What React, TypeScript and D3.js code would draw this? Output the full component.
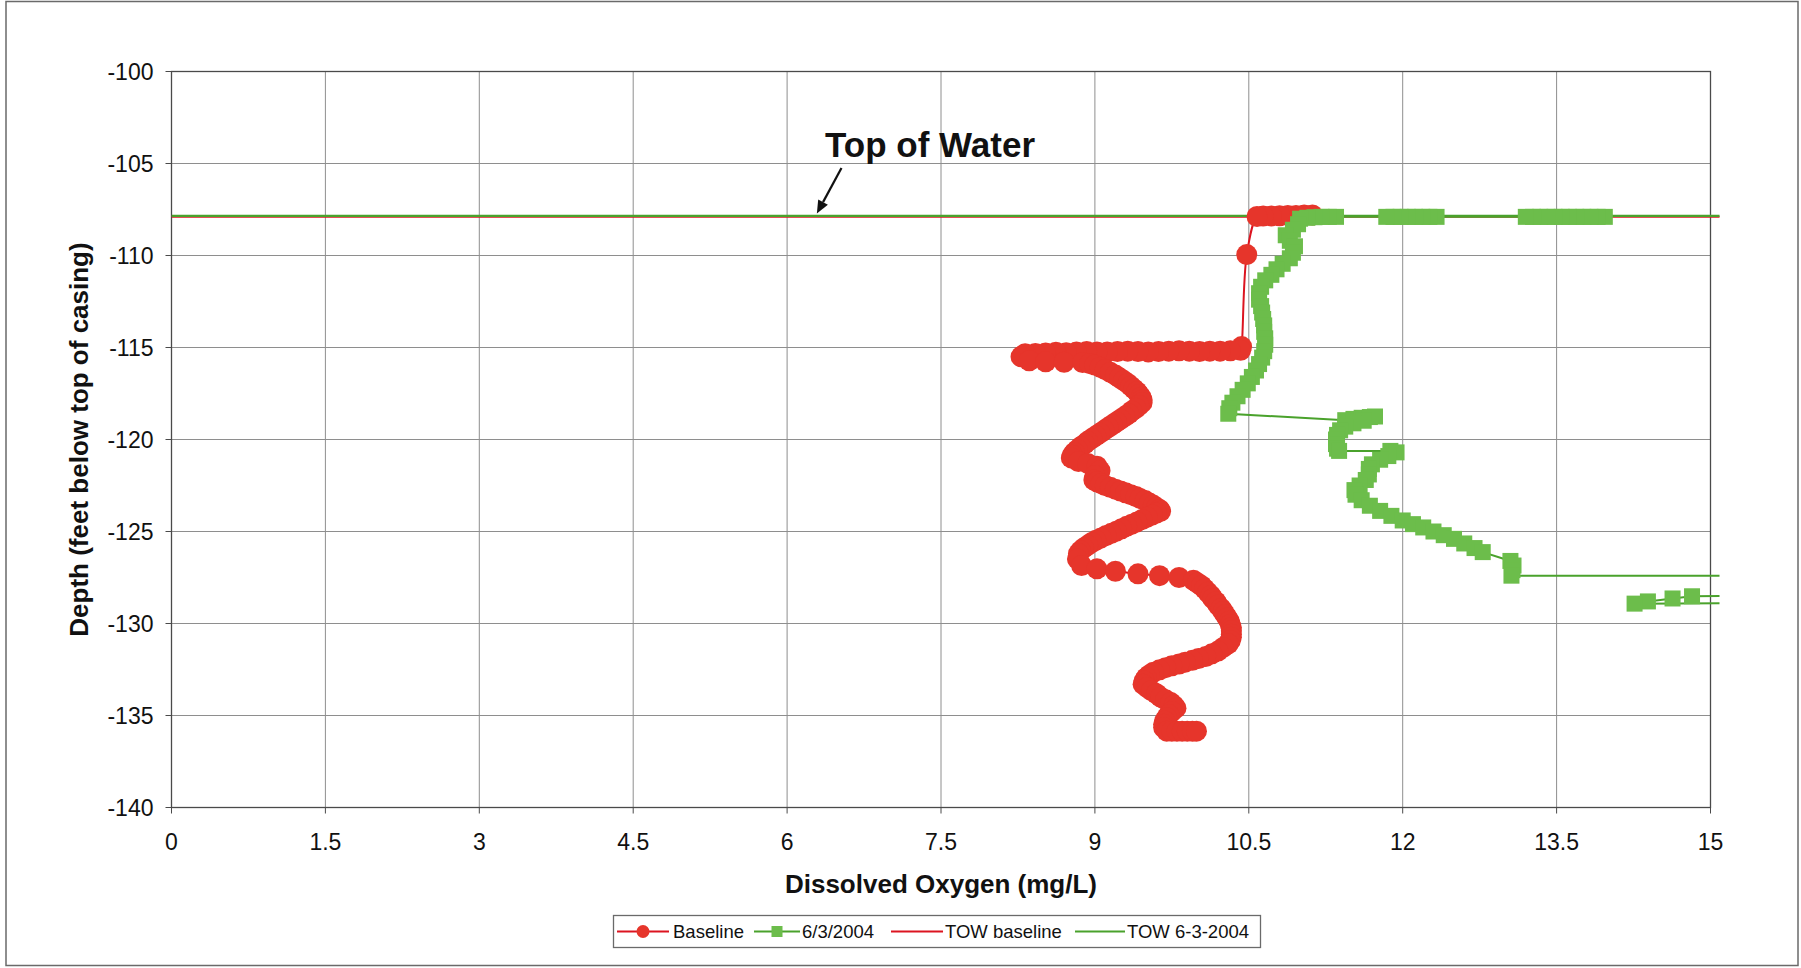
import React from 'react';
import * as d3 from 'd3';

// ---------- data ----------
const xTicks = [0, 1.5, 3, 4.5, 6, 7.5, 9, 10.5, 12, 13.5, 15];
const yTicks = [-100, -105, -110, -115, -120, -125, -130, -135, -140];

// Baseline profile: [dissolved oxygen (mg/L), depth (ft)]
const baselinePoints: [number, number][] = [
  [11.12, -107.8], [11.04, -107.8], [10.96, -107.82], [10.88, -107.82], [10.8, -107.84],
  [10.72, -107.85], [10.64, -107.86], [10.58, -107.88], [10.48, -109.95], [10.43, -114.95],
  [10.42, -115.15], [10.32, -115.18], [10.22, -115.2], [10.12, -115.2], [10.02, -115.22],
  [9.92, -115.2], [9.82, -115.18], [9.72, -115.2], [9.62, -115.22], [9.52, -115.24],
  [9.42, -115.22], [9.32, -115.2], [9.22, -115.22], [9.12, -115.25], [9.02, -115.24],
  [8.92, -115.22], [8.82, -115.25], [8.72, -115.28], [8.62, -115.26], [8.52, -115.3],
  [8.42, -115.32], [8.32, -115.34], [8.28, -115.5], [8.36, -115.72], [8.52, -115.78],
  [8.7, -115.8], [8.88, -115.82], [8.95, -115.88], [9.0, -115.95], [9.05, -116.07],
  [9.1, -116.2], [9.15, -116.35], [9.2, -116.5], [9.24, -116.65], [9.28, -116.8],
  [9.32, -116.95], [9.35, -117.1], [9.38, -117.25], [9.41, -117.4], [9.43, -117.55],
  [9.45, -117.7], [9.46, -117.85], [9.46, -118.0], [9.43, -118.15], [9.4, -118.3],
  [9.36, -118.45], [9.33, -118.6], [9.29, -118.75], [9.25, -118.9], [9.21, -119.05],
  [9.17, -119.2], [9.13, -119.35], [9.09, -119.5], [9.05, -119.65], [9.01, -119.8],
  [8.97, -119.95], [8.93, -120.1], [8.9, -120.25], [8.86, -120.4], [8.83, -120.55],
  [8.8, -120.7], [8.78, -120.85], [8.77, -121.0], [8.84, -121.2], [8.93, -121.3],
  [9.02, -121.45], [9.05, -121.7], [9.0, -121.95], [8.99, -122.2], [9.02, -122.3],
  [9.06, -122.4], [9.1, -122.5], [9.15, -122.6], [9.2, -122.7], [9.25, -122.8],
  [9.3, -122.9], [9.35, -123.0], [9.4, -123.1], [9.44, -123.2], [9.49, -123.32],
  [9.53, -123.45], [9.57, -123.58], [9.6, -123.7], [9.63, -123.8], [9.64, -123.9],
  [9.6, -124.0], [9.56, -124.1], [9.51, -124.22], [9.46, -124.35], [9.41, -124.48],
  [9.36, -124.6], [9.31, -124.72], [9.26, -124.85], [9.21, -124.98], [9.16, -125.1],
  [9.11, -125.22], [9.06, -125.35], [9.01, -125.48], [8.97, -125.6], [8.93, -125.75],
  [8.89, -125.9], [8.86, -126.05], [8.84, -126.2], [8.83, -126.5], [8.87, -126.85],
  [9.02, -127.03], [9.2, -127.16], [9.42, -127.3], [9.63, -127.4], [9.82, -127.5],
  [9.96, -127.65], [10.0, -127.8], [10.04, -127.95], [10.07, -128.12], [10.1, -128.3],
  [10.13, -128.48], [10.15, -128.65], [10.18, -128.82], [10.2, -129.0], [10.23, -129.18],
  [10.25, -129.35], [10.27, -129.52], [10.29, -129.7], [10.31, -129.88], [10.32, -130.05],
  [10.33, -130.22], [10.33, -130.4], [10.33, -130.58], [10.33, -130.75], [10.32, -130.92],
  [10.3, -131.1], [10.25, -131.3], [10.2, -131.5], [10.14, -131.65], [10.08, -131.8],
  [10.01, -131.9], [9.95, -132.0], [9.88, -132.1], [9.82, -132.2], [9.75, -132.3],
  [9.69, -132.4], [9.63, -132.52], [9.57, -132.65], [9.53, -132.8], [9.5, -132.95],
  [9.48, -133.12], [9.47, -133.3], [9.51, -133.48], [9.55, -133.65], [9.6, -133.82],
  [9.64, -134.0], [9.69, -134.15], [9.74, -134.3], [9.77, -134.45], [9.79, -134.6],
  [9.75, -134.78], [9.72, -134.95], [9.7, -135.12], [9.68, -135.3], [9.67, -135.48],
  [9.67, -135.65], [9.7, -135.85], [9.75, -135.85], [9.8, -135.85], [9.85, -135.85],
  [9.9, -135.85], [9.95, -135.85], [9.99, -135.85],
];

// 6/3/2004 profile: [dissolved oxygen (mg/L), depth (ft)] (some readings exceed 15 mg/L)
const june2004Points: [number, number][] = [
  [13.97, -107.9], [13.9, -107.9], [13.83, -107.9], [13.76, -107.9], [13.69, -107.9],
  [13.62, -107.9], [13.55, -107.9], [13.48, -107.9], [13.41, -107.9], [13.34, -107.9],
  [13.27, -107.9], [13.2, -107.9], [12.33, -107.9], [12.26, -107.9], [12.19, -107.9],
  [12.12, -107.9], [12.05, -107.9], [11.98, -107.9], [11.91, -107.9], [11.84, -107.9],
  [11.35, -107.9], [11.28, -107.9], [11.21, -107.9], [11.14, -107.92], [11.07, -107.95],
  [11.0, -108.0], [10.98, -108.3], [10.93, -108.6], [10.86, -108.9], [10.9, -109.2],
  [10.95, -109.5], [10.93, -109.85], [10.9, -110.15], [10.83, -110.45], [10.77, -110.75],
  [10.72, -111.05], [10.66, -111.35], [10.62, -111.7], [10.6, -112.05], [10.6, -112.4],
  [10.62, -112.75], [10.63, -113.1], [10.64, -113.45], [10.65, -113.8], [10.65, -114.15],
  [10.66, -114.5], [10.66, -114.85], [10.65, -115.2], [10.63, -115.55], [10.6, -115.9],
  [10.57, -116.25], [10.53, -116.6], [10.49, -116.95], [10.44, -117.3], [10.39, -117.65],
  [10.34, -118.0], [10.31, -118.3], [10.3, -118.6], [11.44, -118.95], [11.52, -118.88],
  [11.6, -118.82], [11.68, -118.78], [11.73, -118.75], [11.62, -118.98], [11.52, -119.12],
  [11.44, -119.3], [11.39, -119.5], [11.36, -119.75], [11.35, -120.0], [11.35, -120.25],
  [11.36, -120.5], [11.38, -120.62], [11.88, -120.62], [11.94, -120.7], [11.86, -120.9],
  [11.78, -121.1], [11.7, -121.35], [11.67, -121.6], [11.67, -121.9], [11.64, -122.2],
  [11.58, -122.5], [11.53, -122.75], [11.54, -123.0], [11.6, -123.3], [11.68, -123.6],
  [11.78, -123.88], [11.89, -124.15], [12.0, -124.4], [12.1, -124.6], [12.2, -124.78],
  [12.3, -125.0], [12.4, -125.2], [12.5, -125.4], [12.6, -125.65], [12.7, -125.9],
  [12.78, -126.12], [13.05, -126.6], [13.08, -126.85], [13.07, -127.1], [13.06, -127.4],
  [17.5, -127.4], [17.0, -128.45], [14.82, -128.52], [14.63, -128.64], [14.39, -128.8],
  [14.26, -128.92], [17.0, -128.85],
];

// Top-of-water lines: [dissolved oxygen, depth]
const towBaselinePoints: [number, number][] = [[0, -107.9], [16, -107.9]];
const tow2004Points: [number, number][] = [[0, -107.85], [16, -107.85]];

const legendLabels = ['Baseline', '6/3/2004', 'TOW baseline', 'TOW 6-3-2004'];

// annotation positions (data units)
const annotationLabel = { text: 'Top of Water', doVal: 6.37, depth: -104.63 };
const arrowTail = { doVal: 6.53, depth: -105.25 };
const arrowTip = { doVal: 6.29, depth: -107.72 };

// ---------- styles ----------
const FONT = '"Liberation Sans", Arial, Helvetica, sans-serif';
const RED_FILL = '#e6352b';
const RED_LINE = '#dc1420';
const GREEN_FILL = '#6cbd4b';
const GREEN_LINE = '#4aa22c';
const GRID = '#8e8e8e';
const AXIS = '#4a4a4a';

export default function App() {
  const W = 1801;
  const H = 968;
  const plot = { left: 171.5, right: 1710.5, top: 71.5, bottom: 807.5 };

  const x = d3.scaleLinear().domain([0, 15]).range([plot.left, plot.right]);
  const y = d3.scaleLinear().domain([-140, -100]).range([plot.bottom, plot.top]);

  const smoothLine = d3
    .line<[number, number]>()
    .x((d) => x(d[0]))
    .y((d) => y(d[1]))
    .curve(d3.curveCatmullRom.alpha(0.5));
  const straightLine = d3
    .line<[number, number]>()
    .x((d) => x(d[0]))
    .y((d) => y(d[1]));

  // arrow geometry
  const ax1 = x(arrowTail.doVal), ay1 = y(arrowTail.depth);
  const ax2 = x(arrowTip.doVal), ay2 = y(arrowTip.depth);
  const ang = Math.atan2(ay2 - ay1, ax2 - ax1);
  const headLen = 13, headW = 5.5;
  const bx = ax2 - headLen * Math.cos(ang), by = ay2 - headLen * Math.sin(ang);
  const head = [
    [ax2, ay2],
    [bx + headW * Math.sin(ang), by - headW * Math.cos(ang)],
    [bx - headW * Math.sin(ang), by + headW * Math.cos(ang)],
  ];

  const legendItems = [
    { label: legendLabels[0], x0: 617, len: 52, tx: 673, color: RED_LINE, marker: 'circle' },
    { label: legendLabels[1], x0: 754, len: 46, tx: 802, color: GREEN_LINE, marker: 'square' },
    { label: legendLabels[2], x0: 891, len: 52, tx: 945, color: RED_LINE, marker: 'none' },
    { label: legendLabels[3], x0: 1075, len: 50, tx: 1127, color: GREEN_LINE, marker: 'none' },
  ];
  const legendY = 931.5;

  const sq = 16;

  return (
    <svg
      width={W}
      height={H}
      style={{ position: 'absolute', left: 0, top: 0, display: 'block', background: '#fff' }}
      fontFamily={FONT}
    >
      <defs>
        <clipPath id="plotClip">
          <rect x={plot.left} y={plot.top - 2} width={plot.right - plot.left + 9} height={plot.bottom - plot.top + 4} />
        </clipPath>
      </defs>
      <rect x={0} y={0} width={W} height={H} fill="#fff" />
      {/* outer chart border */}
      <rect x={6} y={1.5} width={1792} height={964} fill="none" stroke="#6a6a6a" strokeWidth={1.5} />

      {/* gridlines */}
      {xTicks.map((t) => (
        <line key={'gx' + t} x1={x(t)} x2={x(t)} y1={plot.top} y2={plot.bottom} stroke={GRID} strokeWidth={1} />
      ))}
      {yTicks.map((t) => (
        <line key={'gy' + t} x1={plot.left} x2={plot.right} y1={y(t)} y2={y(t)} stroke={GRID} strokeWidth={1} />
      ))}
      {/* plot border */}
      <rect x={plot.left} y={plot.top} width={plot.right - plot.left} height={plot.bottom - plot.top} fill="none" stroke={AXIS} strokeWidth={1.3} />

      {/* ticks */}
      {yTicks.map((t) => (
        <line key={'ty' + t} x1={plot.left - 6} x2={plot.left} y1={y(t)} y2={y(t)} stroke={AXIS} strokeWidth={1} />
      ))}
      {xTicks.map((t) => (
        <line key={'tx' + t} x1={x(t)} x2={x(t)} y1={plot.bottom} y2={plot.bottom + 6} stroke={AXIS} strokeWidth={1} />
      ))}

      {/* tick labels */}
      {yTicks.map((t) => (
        <text key={'ly' + t} x={plot.left - 18} y={y(t)} dy="0.35em" textAnchor="end" fontSize={23} fill="#111">
          {t}
        </text>
      ))}
      {xTicks.map((t) => (
        <text key={'lx' + t} x={x(t)} y={842} dy="0.35em" textAnchor="middle" fontSize={23} fill="#111">
          {t}
        </text>
      ))}

      {/* axis titles */}
      <text x={(plot.left + plot.right) / 2} y={884} dy="0.35em" textAnchor="middle" fontSize={26} fontWeight="bold" fill="#111">
        Dissolved Oxygen (mg/L)
      </text>
      <text
        transform={`translate(79, ${(plot.top + plot.bottom) / 2}) rotate(-90)`}
        dy="0.35em"
        textAnchor="middle"
        fontSize={26}
        fontWeight="bold"
        fill="#111"
      >
        Depth (feet below top of casing)
      </text>

      <g clipPath="url(#plotClip)">
        {/* TOW lines */}
        <path d={straightLine(towBaselinePoints) || ''} fill="none" stroke={RED_LINE} strokeWidth={2} />
        <path d={straightLine(tow2004Points) || ''} fill="none" stroke={GREEN_LINE} strokeWidth={2.2} />

        {/* Baseline series */}
        <path d={smoothLine(baselinePoints) || ''} fill="none" stroke={RED_LINE} strokeWidth={2} />
        {baselinePoints.map((d, i) => (
          <circle key={'b' + i} cx={x(d[0])} cy={y(d[1])} r={10.5} fill={RED_FILL} />
        ))}

        {/* 6/3/2004 series */}
        <path d={straightLine(june2004Points) || ''} fill="none" stroke={GREEN_LINE} strokeWidth={2} />
        {june2004Points
          .filter((d) => d[0] <= 15)
          .map((d, i) => (
            <rect key={'g' + i} x={x(d[0]) - sq / 2} y={y(d[1]) - sq / 2} width={sq} height={sq} fill={GREEN_FILL} />
          ))}
      </g>

      {/* annotation */}
      <text x={x(annotationLabel.doVal)} y={y(annotationLabel.depth)} fontSize={35} fontWeight="bold" fill="#111">
        {annotationLabel.text}
      </text>
      <line x1={ax1} y1={ay1} x2={bx} y2={by} stroke="#111" strokeWidth={2.2} />
      <polygon points={head.map((p) => p.join(',')).join(' ')} fill="#111" />

      {/* legend */}
      <rect x={613.5} y={915.5} width={647} height={32} fill="#fff" stroke="#6a6a6a" strokeWidth={1.3} />
      {legendItems.map((it) => (
        <g key={it.label}>
          <line x1={it.x0} x2={it.x0 + it.len} y1={legendY} y2={legendY} stroke={it.color} strokeWidth={2.2} />
          {it.marker === 'circle' && <circle cx={it.x0 + it.len / 2} cy={legendY} r={6.5} fill={RED_FILL} />}
          {it.marker === 'square' && (
            <rect x={it.x0 + it.len / 2 - 5.5} y={legendY - 5.5} width={11} height={11} fill={GREEN_FILL} />
          )}
          <text x={it.tx} y={legendY} dy="0.35em" fontSize={18.5} fill="#111">
            {it.label}
          </text>
        </g>
      ))}
    </svg>
  );
}
